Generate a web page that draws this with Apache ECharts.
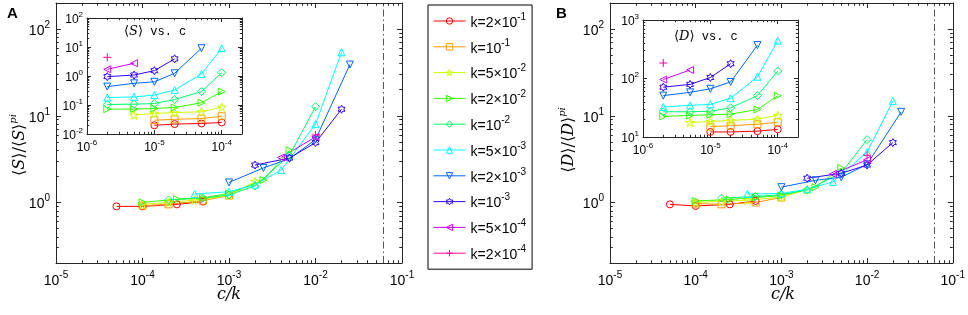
<!DOCTYPE html>
<html>
<head>
<meta charset="utf-8">
<script src="https://cdn.jsdelivr.net/npm/echarts@6/dist/echarts.min.js"></script>
<style>
  html, body { margin: 0; padding: 0; background: #fff; }
  #chart { width: 968px; height: 315px; }
</style>
</head>
<body>
<div id="chart"></div>
<script>
// series names, one per k
const kNames = ["k=2×10^-1", "k=10^-1", "k=5×10^-2", "k=2×10^-2", "k=10^-2",
  "k=5×10^-3", "k=2×10^-3", "k=10^-3", "k=5×10^-4", "k=2×10^-4"];
const kColors = ["#ff0000", "#ff9900", "#ccff00", "#33ff00", "#00ff66",
  "#00ffff", "#0066ff", "#3300ff", "#cc00ff", "#ff0099"];

// main panels: x = c/k
const mainX = [
  [5e-5, 1e-4, 2.5e-4, 5e-4],
  [1e-4, 2e-4, 5e-4, 1e-3],
  [1e-4, 2e-4, 4e-4, 1e-3, 2e-3],
  [1e-4, 2.5e-4, 5e-4, 1e-3, 2.5e-3, 5e-3],
  [2e-4, 5e-4, 1e-3, 2e-3, 5e-3, 1e-2],
  [4e-4, 1e-3, 2e-3, 4e-3, 1e-2, 2e-2],
  [1e-3, 2.5e-3, 5e-3, 1e-2, 2.5e-2],
  [2e-3, 5e-3, 1e-2, 2e-2],
  [4e-3, 1e-2],
  [1e-2]
];
// panel A: <S>/<S>^pi
const mainS = [
  [0.9, 0.9, 0.95, 1.02],
  [0.92, 0.95, 1.05, 1.2],
  [0.95, 1.0, 1.06, 1.2, 1.75],
  [1.0, 1.09, 1.13, 1.27, 1.81, 4.0],
  [1.07, 1.12, 1.22, 1.55, 3.5, 12.7],
  [1.25, 1.33, 1.6, 2.36, 8.0, 54],
  [1.7, 2.5, 3.2, 5.3, 39],
  [2.7, 3.25, 4.9, 11.9],
  [3.3, 5.7],
  [6.0]
];
// panel B: <D>/<D>^pi
const mainD = [
  [0.95, 0.91, 0.95, 1.04],
  [0.97, 0.95, 1.0, 1.14],
  [1.0, 1.03, 1.06, 1.15, 1.4],
  [1.04, 1.08, 1.14, 1.2, 1.5, 2.5],
  [1.12, 1.17, 1.23, 1.39, 2.2, 5.3],
  [1.25, 1.27, 1.42, 1.73, 3.8, 14.8],
  [1.5, 1.8, 1.95, 2.75, 11.1],
  [1.9, 2.17, 2.7, 4.9],
  [2.13, 3.1],
  [3.5]
];

// insets: x = c
const insetC = [
  [1e-5, 2e-5, 5e-5, 1e-4],
  [1e-5, 2e-5, 5e-5, 1e-4],
  [5e-6, 1e-5, 2e-5, 5e-5, 1e-4],
  [2e-6, 5e-6, 1e-5, 2e-5, 5e-5, 1e-4],
  [2e-6, 5e-6, 1e-5, 2e-5, 5e-5, 1e-4],
  [2e-6, 5e-6, 1e-5, 2e-5, 5e-5, 1e-4],
  [2e-6, 5e-6, 1e-5, 2e-5, 5e-5],
  [2e-6, 5e-6, 1e-5, 2e-5],
  [2e-6, 5e-6],
  [2e-6]
];
const insetS = [
  [0.020, 0.022, 0.023, 0.025],
  [0.030, 0.032, 0.034, 0.041],
  [0.045, 0.051, 0.055, 0.058, 0.084],
  [0.072, 0.072, 0.076, 0.082, 0.12, 0.29],
  [0.104, 0.107, 0.112, 0.155, 0.29, 1.3],
  [0.18, 0.19, 0.22, 0.33, 1.17, 9.1],
  [0.43, 0.56, 0.63, 1.24, 9.1],
  [0.95, 1.08, 1.53, 3.9],
  [1.7, 2.75],
  [4.4]
];
const insetD = [
  [12.2, 12.2, 12.6, 13.5],
  [15.0, 15.6, 16.5, 17.9],
  [17.7, 18.4, 19.2, 20.2, 23.4],
  [22.5, 23.4, 24.0, 24.6, 29.5, 50.8],
  [27, 27, 27.6, 31.6, 51, 134],
  [32.5, 34.8, 36.1, 46, 107, 443],
  [51, 58, 66.6, 87.3, 372],
  [71, 79.4, 104, 179],
  [96, 140],
  [184]
];

// tick labels
const mainXTicks = [1e-5, 1e-4, 1e-3, 1e-2, 1e-1];
const mainYTicks = [1, 10, 100];
const insetXTicks = [1e-6, 1e-5, 1e-4];
const insetSTicks = [1e-2, 1e-1, 1, 10, 100];
const insetDTicks = [10, 100, 1000];
const cutoff = 0.062; // dash-dot line

// matlab markers: o s p > d ^ v h < +
const kSymbols = [
  "circle",
  "rect",
  "path://M50,0L61,35L98,35L68,57L79,91L50,70L21,91L32,57L2,35L39,35Z",
  "path://M0,0L10,5L0,10Z",
  "path://M5,0L10,5L5,10L0,5Z",
  "path://M5,0L10,10L0,10Z",
  "path://M0,0L10,0L5,10Z",
  "path://M50,0L64.4,25L93.3,25L78.9,50L93.3,75L64.4,75L50,100L35.6,75L6.7,75L21.1,50L6.7,25L35.6,25Z",
  "path://M10,0L0,5L10,10Z",
  "path://M5,0L5,10M0,5L10,5"
];
const kSizes = [7, 7, 9, 7, 8, 7, 7, 8, 7, 8];

const FONT = "Liberation Sans, Arial, sans-serif";
const AXC = "#262626";

function minors(min, max) {
  const out = [];
  const mult = [2, 3, 4, 5, 6, 7, 8, 9];
  for (let e = Math.floor(Math.log10(min)); e <= Math.ceil(Math.log10(max)); e++) {
    mult.forEach(function (m) {
      const v = m * Math.pow(10, e);
      if (v > min * 1.0001 && v < max * 0.9999) out.push(v);
    });
  }
  return out;
}

function powLabel(v) {
  const e = Math.round(Math.log10(v));
  return "{b|10}{s|" + e + "}";
}

const xAxes = [];
const yAxes = [];

// four axes per side: labelled + opposite (major ticks), and two for minor ticks
function addAxes(list, dim, grid, min, max, majors, small) {
  const near = dim === "x" ? "bottom" : "left";
  const far = dim === "x" ? "top" : "right";
  const fs = small ? 12 : 14;
  const len = small ? 4 : 5;
  const base = function (pos) {
    return {
      type: "log", logBase: 10, gridIndex: grid, min: min, max: max, position: pos,
      axisLine: { show: true, onZero: false, lineStyle: { color: AXC, width: 1 } },
      splitLine: { show: false },
      axisLabel: { show: false },
      axisTick: { show: false }
    };
  };
  const main = base(near);
  main.axisTick = { show: true, inside: true, length: len, customValues: majors, lineStyle: { color: AXC } };
  main.axisLabel = {
    show: true, customValues: majors, formatter: powLabel, color: "#000",
    margin: dim === "x" ? (small ? 5 : 7) : (small ? 4 : 6),
    rich: {
      b: { fontSize: fs, fontFamily: FONT, color: "#000", lineHeight: small ? 15 : 18, verticalAlign: "bottom" },
      s: { fontSize: small ? 8 : 10, fontFamily: FONT, color: "#000", lineHeight: small ? 7 : 9, verticalAlign: "top" }
    }
  };
  const idx = list.length;
  list.push(main);
  const opp = base(far);
  opp.axisTick = { show: true, inside: true, length: len, customValues: majors, lineStyle: { color: AXC } };
  list.push(opp);
  const mn = minors(min, max);
  [near, far].forEach(function (p) {
    const a = base(p);
    a.axisLine.show = false;
    a.axisTick = { show: true, inside: true, length: len * 0.55, customValues: mn, lineStyle: { color: AXC } };
    list.push(a);
  });
  return idx;
}

const grids = [
  { left: 56, top: 3, width: 346, height: 260 },   // A main
  { left: 87, top: 18, width: 155, height: 116 },  // A inset
  { left: 610, top: 3, width: 345, height: 260 },  // B main
  { left: 643, top: 20, width: 155, height: 117 }  // B inset
];

const axA = [addAxes(xAxes, "x", 0, 1e-5, 1e-1, mainXTicks, false), addAxes(yAxes, "y", 0, 0.2, 200, mainYTicks, false)];
const axAi = [addAxes(xAxes, "x", 1, 1e-6, 2e-4, insetXTicks, true), addAxes(yAxes, "y", 1, 1e-2, 1e2, insetSTicks, true)];
const axB = [addAxes(xAxes, "x", 2, 1e-5, 1e-1, mainXTicks, false), addAxes(yAxes, "y", 2, 0.2, 200, mainYTicks, false)];
const axBi = [addAxes(xAxes, "x", 3, 1e-6, 2e-4, insetXTicks, true), addAxes(yAxes, "y", 3, 10, 1000, insetDTicks, true)];

function makeSeries(ax, xs, ys, withCut) {
  return kNames.map(function (name, i) {
    const s = {
      type: "line", name: name,
      xAxisIndex: ax[0], yAxisIndex: ax[1],
      data: xs[i].map(function (x, j) { return [x, ys[i][j]]; }),
      symbol: kSymbols[i], symbolSize: kSizes[i], symbolKeepAspect: true,
      showAllSymbol: true,
      lineStyle: { color: kColors[i], width: 1 },
      itemStyle: { color: "rgba(0,0,0,0)", borderColor: kColors[i], borderWidth: 1 },
      emphasis: { disabled: true }
    };
    if (withCut && i === 0) {
      s.markLine = {
        silent: true, symbol: ["none", "none"], label: { show: false },
        lineStyle: { color: "#555", width: 1, type: [7, 3, 1.5, 3] },
        data: [{ xAxis: cutoff }]
      };
    }
    return s;
  });
}

const series = []
  .concat(makeSeries(axA, mainX, mainS, true))
  .concat(makeSeries(axAi, insetC, insetS, false))
  .concat(makeSeries(axB, mainX, mainD, true))
  .concat(makeSeries(axBi, insetC, insetD, false));

const serif = "DejaVu Serif, serif";

const chart = echarts.init(document.getElementById("chart"));
chart.setOption({
  animation: false,
  backgroundColor: "#fff",
  grid: grids,
  xAxis: xAxes,
  yAxis: yAxes,
  series: series,
  legend: {
    data: kNames,
    orient: "vertical",
    left: 428, top: 5,
    padding: [7, 6, 7, 5],
    itemWidth: 32, itemHeight: 8, itemGap: 7.8,
    borderColor: "#000", borderWidth: 1,
    selectedMode: false,
    lineStyle: { width: 1 },
    itemStyle: { borderWidth: 1 },
    formatter: function (n) { return n.replace(/^(.*)\^(.*)$/, "{b|$1}{s|$2}"); },
    textStyle: {
      rich: {
        b: { fontSize: 14, fontFamily: FONT, color: "#000", lineHeight: 18, verticalAlign: "bottom" },
        s: { fontSize: 10, fontFamily: FONT, color: "#000", lineHeight: 9, verticalAlign: "top" }
      }
    }
  },
  graphic: [
    { type: "text", left: 7, top: 6, style: { text: "A", font: "bold 15px " + FONT, fill: "#000" } },
    { type: "text", left: 556, top: 6, style: { text: "B", font: "bold 15px " + FONT, fill: "#000" } },
    {
      type: "text", x: 18, y: 145, rotation: Math.PI / 2,
      style: {
        text: "{a|⟨}{i|S}{a|⟩/⟨}{i|S}{a|⟩}{p|pi}", align: "center", verticalAlign: "middle",
        rich: {
          a: { fontSize: 16, fontFamily: serif, fill: "#000", lineHeight: 20, verticalAlign: "bottom" },
          i: { fontSize: 16, fontFamily: serif, fontStyle: "italic", fill: "#000", lineHeight: 20, verticalAlign: "bottom" },
          p: { fontSize: 10, fontFamily: serif, fontStyle: "italic", fill: "#000", lineHeight: 9, verticalAlign: "top" }
        }
      }
    },
    {
      type: "text", x: 567, y: 140, rotation: Math.PI / 2,
      style: {
        text: "{a|⟨}{i|D}{a|⟩/⟨}{i|D}{a|⟩}{p|pi}", align: "center", verticalAlign: "middle",
        rich: {
          a: { fontSize: 16, fontFamily: serif, fill: "#000", lineHeight: 20, verticalAlign: "bottom" },
          i: { fontSize: 16, fontFamily: serif, fontStyle: "italic", fill: "#000", lineHeight: 20, verticalAlign: "bottom" },
          p: { fontSize: 10, fontFamily: serif, fontStyle: "italic", fill: "#000", lineHeight: 9, verticalAlign: "top" }
        }
      }
    },
    { type: "text", x: 229, y: 295, style: { text: "c/k", font: "italic 16px " + serif, fill: "#000", align: "center", verticalAlign: "middle" } },
    { type: "text", x: 783, y: 295, style: { text: "c/k", font: "italic 16px " + serif, fill: "#000", align: "center", verticalAlign: "middle" } },
    {
      type: "text", x: 124, y: 32,
      style: {
        text: "{a|⟨}{i|S}{a|⟩}{m| vs. c}", verticalAlign: "middle",
        rich: {
          a: { fontSize: 13, fontFamily: serif, fill: "#000" },
          i: { fontSize: 13, fontFamily: serif, fontStyle: "italic", fill: "#000" },
          m: { fontSize: 12, fontFamily: "Liberation Mono, monospace", fill: "#000" }
        }
      }
    },
    {
      type: "text", x: 674, y: 37,
      style: {
        text: "{a|⟨}{i|D}{a|⟩}{m| vs. c}", verticalAlign: "middle",
        rich: {
          a: { fontSize: 13, fontFamily: serif, fill: "#000" },
          i: { fontSize: 13, fontFamily: serif, fontStyle: "italic", fill: "#000" },
          m: { fontSize: 12, fontFamily: "Liberation Mono, monospace", fill: "#000" }
        }
      }
    }
  ]
});
window.addEventListener("resize", function () { chart.resize(); });
</script>
</body>
</html>
